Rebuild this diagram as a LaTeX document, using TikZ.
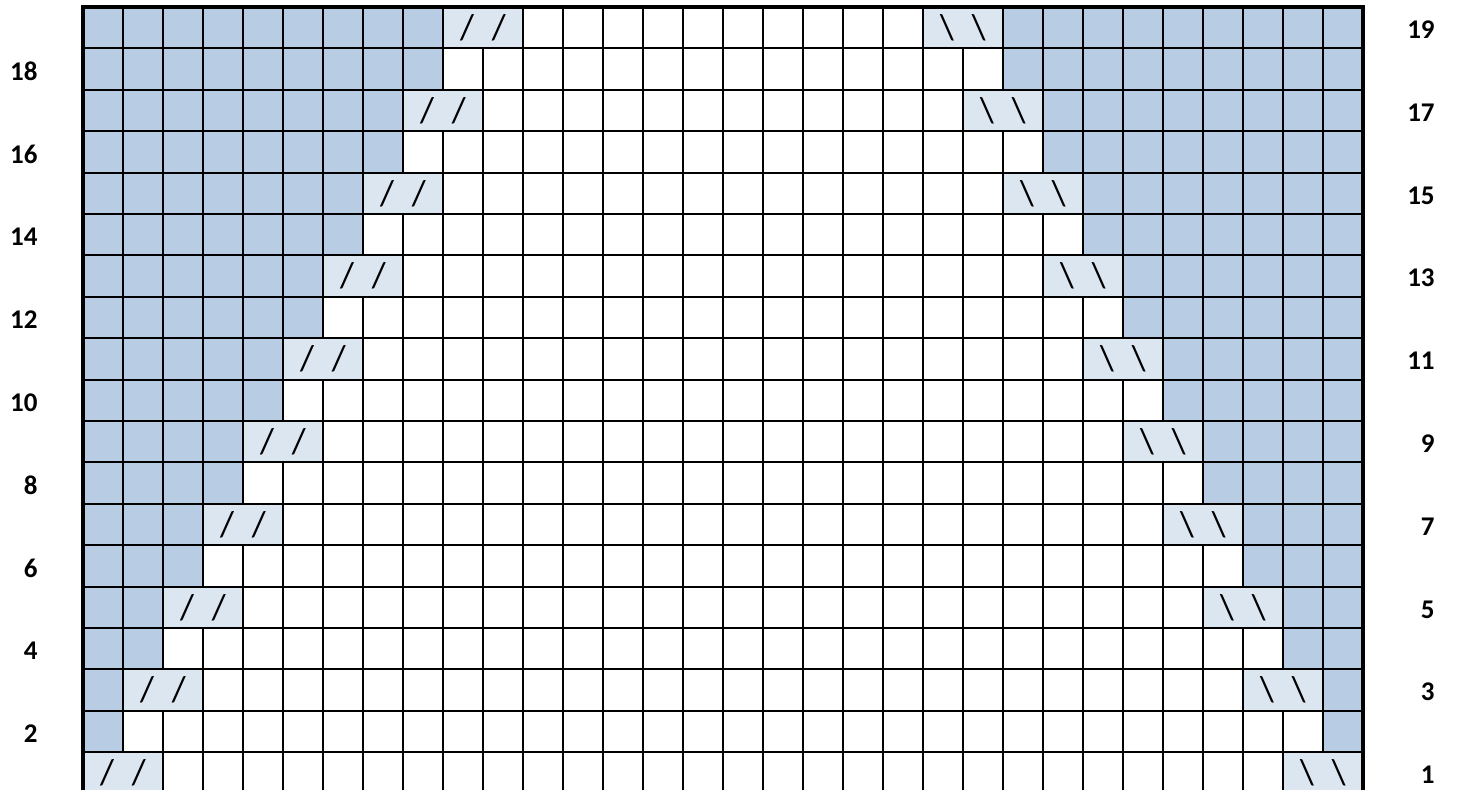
\documentclass[tikz,border=0pt]{standalone}
\usepackage{fontspec}
\setmainfont{Carlito}
\usepackage{xcolor}
\usepackage{tikz}

\definecolor{edgeblue}{HTML}{B8CCE4}
\definecolor{decblue}{HTML}{DCE6F1}

\tikzset{
  deccell/.style={draw,line width=1pt,fill=decblue,minimum width=40pt,minimum height=20.7pt,inner sep=0pt,font=\fontsize{18}{20}\selectfont},
  rownum/.style={inner sep=0pt,font=\fontsize{13.5}{16}\selectfont\bfseries}
}

\begin{document}
\begin{tikzpicture}[x=20pt,y=20.7pt,font=\fontsize{13.5}{16}\selectfont]
  \useasboundingbox (-2.075,0.087) rectangle (34.425,19.169);
  % shaded edge stitches
  \foreach \r in {2,...,19}{
    \pgfmathtruncatemacro{\k}{floor(\r/2)}
    \fill[edgeblue] (0,\r-1) rectangle (\k,\r);
    \fill[edgeblue] (32-\k,\r-1) rectangle (32,\r);
  }
  \foreach \i in {1,...,31}{\draw[line width=1pt] (\i,0) -- (\i,19);}
  \foreach \j in {1,...,18}{\draw[line width=1pt] (0,\j) -- (32,\j);}
  % decreases on odd rows
  \foreach \r in {1,3,...,19}{
    \pgfmathtruncatemacro{\k}{floor(\r/2)}
    \node[deccell] (decL\r) at (\k+1,\r-0.5) {/\hspace{9pt}/};
    \node[deccell] (decR\r) at (31-\k,\r-0.5) {\textbackslash\hspace{9pt}\textbackslash};
  }
  \draw[line width=2pt] (0,0) rectangle (32,19);
  % row numbers
  \foreach \r in {2,4,...,18}{\node[rownum,anchor=east] (numL\r) at (-1.125,\r-0.55) {\r};}
  \foreach \r in {1,3,...,19}{\node[rownum,anchor=east] (numR\r) at (33.8,\r-0.55) {\r};}
\end{tikzpicture}
\end{document}
